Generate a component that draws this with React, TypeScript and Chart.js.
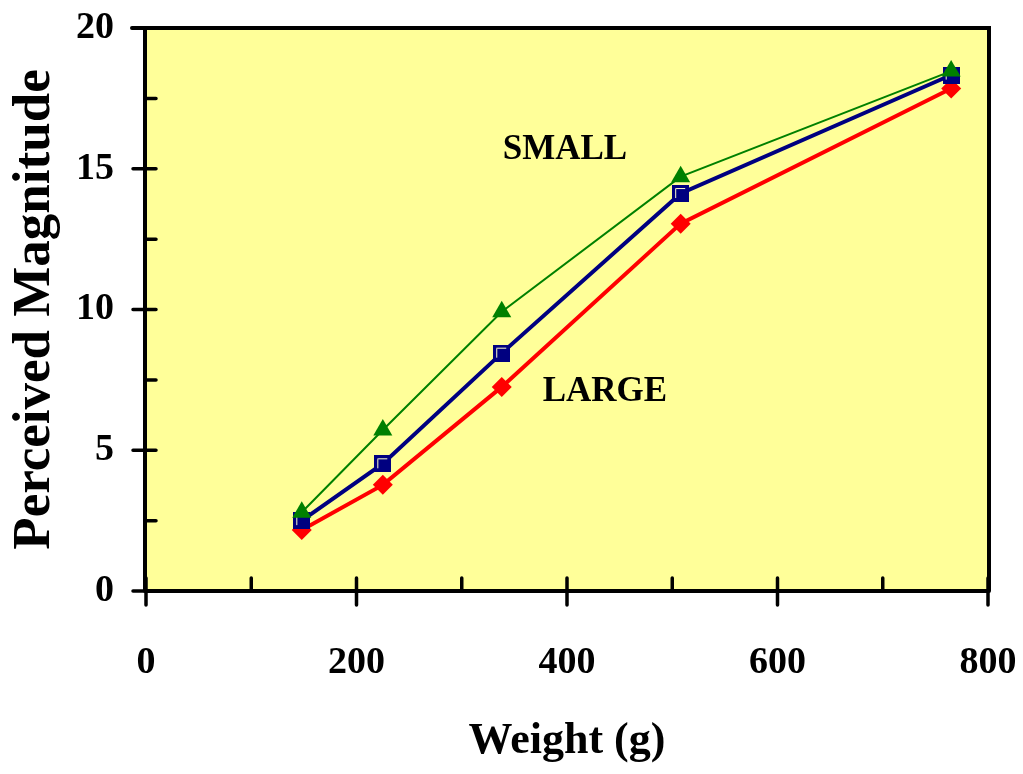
import React, { useEffect, useRef } from "react";
import { Chart, registerables } from "chart.js";

Chart.register(...registerables);

const weights = [148, 225, 338, 508, 765];
const largeValues = [2.17, 3.77, 7.25, 13.05, 17.85];
const mediumValues = [2.5, 4.52, 8.45, 14.12, 18.33];
const smallValues = [2.8, 5.72, 9.92, 14.72, 18.47];

const xMajorTicks = [0, 200, 400, 600, 800];
const xMinorTicks = [100, 300, 500, 700];
const yMajorTicks = [0, 5, 10, 15, 20];
const yMinorTicks = [2.5, 7.5, 12.5, 17.5];

const annotationLabels = ["SMALL", "LARGE"];
const annotationX = [398, 436];
const annotationY = [15.67, 7.07];

const FONT = "'Liberation Serif', 'Times New Roman', serif";

function makeSquareMarker(): HTMLCanvasElement {
  const c = document.createElement("canvas");
  c.width = 17;
  c.height = 17;
  const g = c.getContext("2d")!;
  g.fillStyle = "#000080";
  g.fillRect(0, 0, 17, 17);
  g.strokeStyle = "#FFFFCC";
  g.lineWidth = 1;
  g.beginPath();
  g.moveTo(3.5, 13);
  g.lineTo(3.5, 3.5);
  g.lineTo(13, 3.5);
  g.stroke();
  return c;
}

const framePlugin = {
  id: "framePlugin",
  beforeDraw(chart: any) {
    const { ctx, chartArea } = chart;
    ctx.save();
    ctx.fillStyle = "#FFFF99";
    ctx.fillRect(chartArea.left, chartArea.top, chartArea.right - chartArea.left, chartArea.bottom - chartArea.top);
    ctx.restore();
  },
  beforeDatasetsDraw(chart: any) {
    const { ctx, chartArea } = chart;
    const xs = chart.scales.x;
    const ys = chart.scales.y;
    const left = chartArea.left - 1;
    const bottom = chartArea.bottom;
    const top = chartArea.top;
    const right = chartArea.right;
    ctx.save();
    ctx.strokeStyle = "#000";
    ctx.lineCap = "round";
    ctx.lineWidth = 4;
    ctx.beginPath();
    ctx.moveTo(left, bottom);
    ctx.lineTo(right + 1, bottom);
    ctx.moveTo(left, bottom);
    ctx.lineTo(left, top);
    ctx.moveTo(left - 13, top);
    ctx.lineTo(right + 1, top);
    ctx.lineTo(right + 1, bottom);
    ctx.stroke();
    ctx.lineWidth = 3.5;
    ctx.beginPath();
    for (const v of yMajorTicks) {
      const y = ys.getPixelForValue(v);
      ctx.moveTo(left - 12, y);
      ctx.lineTo(left + 11, y);
    }
    for (const v of yMinorTicks) {
      const y = ys.getPixelForValue(v);
      ctx.moveTo(left, y);
      ctx.lineTo(left + 11, y);
    }
    for (const v of xMajorTicks) {
      const x = xs.getPixelForValue(v);
      ctx.moveTo(x, bottom + 14);
      ctx.lineTo(x, bottom - 13);
    }
    for (const v of xMinorTicks) {
      const x = xs.getPixelForValue(v);
      ctx.moveTo(x, bottom);
      ctx.lineTo(x, bottom - 13);
    }
    ctx.stroke();
    ctx.restore();
  },
  afterDatasetsDraw(chart: any) {
    const { ctx } = chart;
    const xs = chart.scales.x;
    const ys = chart.scales.y;
    ctx.save();
    ctx.fillStyle = "#000";
    ctx.font = `bold 35px ${FONT}`;
    ctx.textAlign = "center";
    ctx.textBaseline = "middle";
    annotationLabels.forEach((t, i) => {
      ctx.fillText(t, xs.getPixelForValue(annotationX[i]), ys.getPixelForValue(annotationY[i]));
    });
    ctx.restore();
  },
};

export default function App() {
  const ref = useRef<HTMLCanvasElement | null>(null);
  useEffect(() => {
    if (!ref.current) return;
    const square = makeSquareMarker();
    const pts = (vals: number[]) => weights.map((w, i) => ({ x: w, y: vals[i] }));
    const chart = new Chart(ref.current, {
      type: "line",
      data: {
        datasets: [
          {
            label: "Small",
            data: pts(smallValues),
            borderColor: "#008000",
            backgroundColor: "#008000",
            borderWidth: 2,
            pointStyle: "triangle",
            pointRadius: 11,
            pointBorderWidth: 0,
            tension: 0,
          },
          {
            label: "Medium",
            data: pts(mediumValues),
            borderColor: "#000080",
            backgroundColor: "#000080",
            borderWidth: 4,
            pointStyle: square as any,
            pointRadius: 9,
            tension: 0,
          },
          {
            label: "Large",
            data: pts(largeValues),
            borderColor: "#FF0000",
            backgroundColor: "#FF0000",
            borderWidth: 4,
            pointStyle: "rectRot",
            pointRadius: 10,
            pointBorderWidth: 0,
            tension: 0,
          },
        ],
      },
      options: {
        animation: false,
        responsive: true,
        maintainAspectRatio: false,
        layout: { padding: { top: 28, right: 35, left: 0, bottom: 0 } },
        plugins: { legend: { display: false }, tooltip: { enabled: false } },
        scales: {
          x: {
            type: "linear",
            min: 0,
            max: 800,
            grid: { display: false, drawTicks: false },
            border: { display: false },
            afterFit: (s: any) => {
              s.height = 183;
              s.paddingLeft = 0;
              s.paddingRight = 0;
            },
            afterBuildTicks: (s: any) => {
              s.ticks = xMajorTicks.map((v) => ({ value: v }));
            },
            ticks: {
              color: "#000",
              padding: 49,
              maxRotation: 0,
              font: { family: FONT, size: 38, weight: "bold" },
            },
            title: {
              display: true,
              text: "Weight (g)",
              color: "#000",
              font: { family: FONT, size: 44, weight: "bold" },
              padding: { top: 0, bottom: 6 },
            },
          },
          y: {
            type: "linear",
            min: 0,
            max: 20,
            grid: { display: false, drawTicks: false },
            border: { display: false },
            afterFit: (s: any) => {
              s.width = 146;
              s.paddingTop = 0;
              s.paddingBottom = 0;
            },
            afterBuildTicks: (s: any) => {
              s.ticks = yMajorTicks.map((v) => ({ value: v }));
            },
            ticks: {
              color: "#000",
              padding: 32,
              font: { family: FONT, size: 38, weight: "bold" },
            },
            title: {
              display: true,
              text: "Perceived Magnitude",
              color: "#000",
              font: { family: FONT, size: 53, weight: "bold" },
              padding: { top: 4, bottom: 0 },
            },
          },
        },
      },
      plugins: [framePlugin],
    });
    return () => chart.destroy();
  }, []);
  return (
    <div style={{ position: "absolute", left: 0, top: 0, width: 1023, height: 774, background: "#fff" }}>
      <canvas ref={ref} />
    </div>
  );
}
